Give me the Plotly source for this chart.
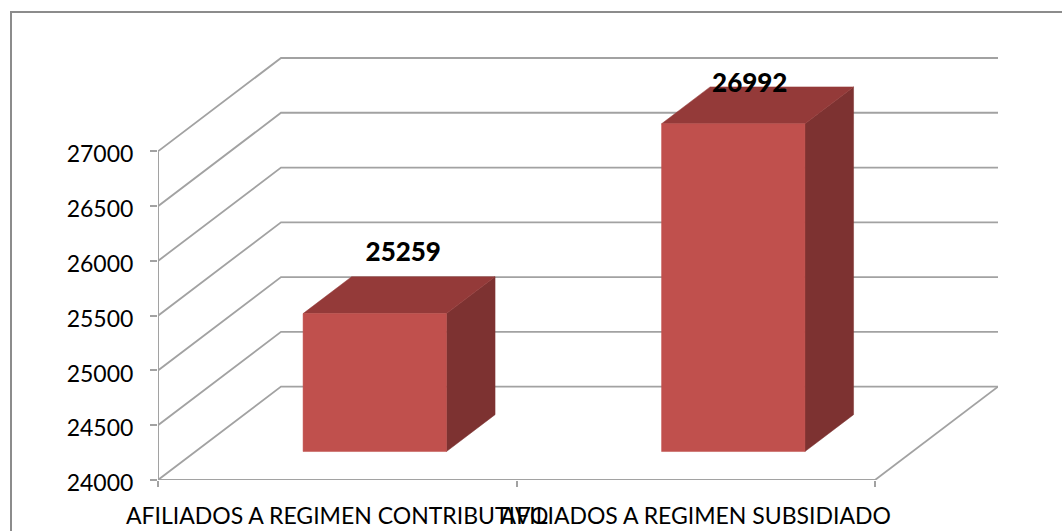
import plotly.graph_objects as go

categories = ["AFILIADOS A REGIMEN CONTRIBUTIVO", "AFILIADOS A REGIMEN SUBSIDIADO"]
values = [25259, 26992]
y_ticks = [24000, 24500, 25000, 25500, 26000, 26500, 27000]

W, H = 1062, 531
X0, X1 = 158, 875        # front plane of the category axis (px)
Y0, Y27 = 480.5, 151.5   # 24000 and 27000 on the front plane (px)
DX, DY = 123, 93.5       # full floor depth (px)
cat_px = (X1 - X0) / len(categories)
val_px = (Y0 - Y27) / (y_ticks[-1] - y_ticks[0])
ddx = DX / cat_px        # depth in axis units
ddy = DY / val_px
BAR_W = 0.4
D_FRONT, D_BACK = 0.305, 0.70
GRID = "#a2a2a2"
LABEL_SHIFT_PX = [66, 54]   # label centre, right of the category centre
LABEL_LIFT_PX = [22, 1]     # label centre, above the bar's back top edge

def proj(c, v, d):
    return c + d * ddx, v + d * ddy

def add_poly(fig, pts, color):
    fig.add_trace(go.Scatter(x=[p[0] for p in pts] + [pts[0][0]],
                             y=[p[1] for p in pts] + [pts[0][1]],
                             mode="lines", fill="toself", fillcolor=color,
                             line=dict(color=color, width=0.5), hoverinfo="skip",
                             showlegend=False, cliponaxis=False))

fig = go.Figure()
n = len(categories)
base = y_ticks[0]

# walls: one line per tick, from the front axis to the back wall and across it
for t in y_ticks:
    xb, yb = proj(0, t, 1)
    xe, _ = proj(n, t, 1)
    fig.add_trace(go.Scatter(x=[0, xb, xe], y=[t, yb, yb], mode="lines",
                             line=dict(color=GRID, width=1.8), hoverinfo="skip",
                             showlegend=False, cliponaxis=False))
# floor right edge and axes
xb, yb = proj(n, base, 1)
fig.add_trace(go.Scatter(x=[n, xb], y=[base, yb], mode="lines",
                         line=dict(color=GRID, width=1.8), hoverinfo="skip",
                         showlegend=False, cliponaxis=False))
fig.add_trace(go.Scatter(x=[0, 0, n], y=[y_ticks[-1], base, base], mode="lines",
                         line=dict(color=GRID, width=2), hoverinfo="skip",
                         showlegend=False, cliponaxis=False))

# 3D bars
for i, v in enumerate(values):
    l, r = i + 0.5 - BAR_W / 2, i + 0.5 + BAR_W / 2
    fl = proj(l, v, D_FRONT); fr = proj(r, v, D_FRONT)
    bl = proj(l, v, D_BACK); br = proj(r, v, D_BACK)
    fl0 = proj(l, base, D_FRONT); fr0 = proj(r, base, D_FRONT)
    br0 = proj(r, base, D_BACK)
    add_poly(fig, [fr0, fr, br, br0], "#7d3231")
    add_poly(fig, [fl, bl, br, fr], "#943a39")
    add_poly(fig, [fl0, fl, fr, fr0], "#c0504d")

# data labels
fig.add_trace(go.Scatter(
    x=[i + 0.5 + LABEL_SHIFT_PX[i] / cat_px for i in range(n)],
    y=[v + D_BACK * ddy + LABEL_LIFT_PX[i] / val_px for i, v in enumerate(values)],
    mode="text", text=[str(v) for v in values], textposition="middle center",
    textfont=dict(family="Lato", size=26, color="black", weight=900),
    hoverinfo="skip", showlegend=False, cliponaxis=False))

fig.update_layout(
    width=W, height=H, autosize=False, paper_bgcolor="white", plot_bgcolor="white",
    margin=dict(l=X0, r=W - (X1 + DX), t=57, b=H - Y0),
    font=dict(family="Lato", color="black", size=23),
    shapes=[dict(type="rect", xref="paper", yref="paper",
                 x0=(11 - X0) / (X1 + DX - X0), x1=(1090 - X0) / (X1 + DX - X0),
                 y0=(Y0 - 560) / (Y0 - 57), y1=(Y0 - 12) / (Y0 - 57),
                 line=dict(color="#8c8c8c", width=2), layer="below")],
    xaxis=dict(range=[0, n + ddx], tickmode="array",
               tickvals=[i + 0.5 for i in range(n)], ticktext=categories,
               showgrid=False, zeroline=False, showline=False, ticks="",
               tickangle=0, tickfont=dict(size=23, family="Lato"),
               ticklabeloverflow="allow", automargin=False, ticklabelstandoff=20,
               minor=dict(tickmode="array", tickvals=list(range(n + 1)), ticks="outside",
                          ticklen=6, tickwidth=2, tickcolor=GRID, showgrid=False)),
    yaxis=dict(range=[base, base + (Y0 - 57) / val_px], tickmode="array",
               tickvals=y_ticks, ticktext=[str(t) for t in y_ticks],
               showgrid=False, zeroline=False, showline=False, ticks="outside",
               ticklen=7, tickwidth=2, tickcolor=GRID, ticklabelstandoff=12,
               ticklabelshift=3,
               tickfont=dict(size=23, family="Lato"), automargin=False),
)
fig.write_html("out.html", post_script="document.body.style.margin='0';",
               config={"displayModeBar": False})
